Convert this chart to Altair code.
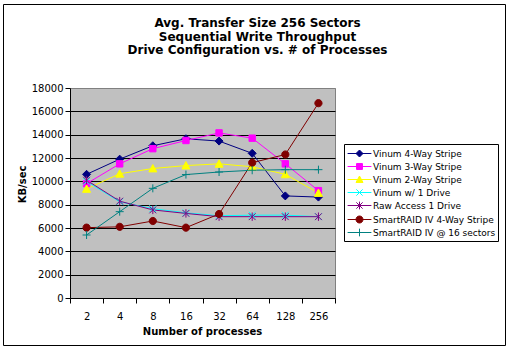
import altair as alt
import pandas as pd

processes = ["2", "4", "8", "16", "32", "64", "128", "256"]
series_names = [
    "Vinum 4-Way Stripe",
    "Vinum 3-Way Stripe",
    "Vinum 2-Way Stripe",
    "Vinum w/ 1 Drive",
    "Raw Access 1 Drive",
    "SmartRAID IV 4-Way Stripe",
    "SmartRAID IV @ 16 sectors",
]
vinum4 = [10600, 11900, 13050, 13650, 13450, 12400, 8750, 8650]
vinum3 = [9800, 11500, 12800, 13500, 14150, 13700, 11500, 9200]
vinum2 = [9350, 10650, 11100, 11350, 11500, 11250, 10600, 9000]
vinum1 = [10000, 8250, 7650, 7300, 7050, 7100, 7100, 6970]
raw1 = [10100, 8300, 7550, 7250, 6970, 6970, 6970, 6970]
smart4 = [6030, 6100, 6600, 6030, 7200, 11600, 12300, 16700]
smart16 = [5400, 7400, 9400, 10580, 10800, 10950, 11000, 11000]
all_values = [vinum4, vinum3, vinum2, vinum1, raw1, smart4, smart16]

colors = ["#000080", "#FF00FF", "#FFFF00", "#00FFFF", "#800080", "#800000", "#008080"]

marker_paths = [
    "M0,-1L1,0L0,1L-1,0Z",
    "M-0.8,-0.8H0.8V0.8H-0.8Z",
    "M0,-1L1,0.85L-1,0.85Z",
    "M-0.85,-0.85L0.85,0.85M-0.85,0.85L0.85,-0.85",
    "M-0.85,-0.85L0.85,0.85M-0.85,0.85L0.85,-0.85M0,-1.05V1.05",
    "M-0.9,0A0.9,0.9,0,1,1,0.9,0A0.9,0.9,0,1,1,-0.9,0Z",
    "M-1,0H1M0,-1V1",
]
L = "M-1.7,0H1.7"
legend_paths = [
    L + "M0,-0.5L0.5,0L0,0.5L-0.5,0Z",
    L + "M-0.42,-0.42H0.42V0.42H-0.42Z",
    L + "M0,-0.5L0.5,0.42L-0.5,0.42Z",
    L + "M-0.45,-0.45L0.45,0.45M-0.45,0.45L0.45,-0.45",
    L + "M-0.45,-0.45L0.45,0.45M-0.45,0.45L0.45,-0.45M0,-0.55V0.55",
    L + "M-0.5,0A0.5,0.5,0,1,1,0.5,0A0.5,0.5,0,1,1,-0.5,0Z",
    L + "M0,-0.55V0.55",
]

rows = []
for name, vals in zip(series_names, all_values):
    for i, (p, v) in enumerate(zip(processes, vals)):
        rows.append({"series": name, "processes": p, "kbps": v, "idx": i})
df = pd.DataFrame(rows)

FONT = "DejaVu Sans"

x_enc = alt.X(
    "processes:O",
    sort=processes,
    scale=alt.Scale(type="band", paddingInner=0, paddingOuter=0),
    axis=alt.Axis(
        title="Number of processes",
        labelAngle=0,
        tickBand="extent",
        tickSize=5,
        tickColor="black",
        domainColor="black",
        labelFont=FONT,
        labelFontSize=10,
        labelColor="black",
        labelPadding=8,
        grid=False,
        titleFont=FONT,
        titleFontSize=10,
        titleFontWeight="bold",
        titleColor="black",
        titleX=132,
        titleY=33,
        titleBaseline="middle",
        titleAlign="center",
    ),
)
y_enc = alt.Y(
    "kbps:Q",
    scale=alt.Scale(domain=[0, 18000], nice=False),
    axis=alt.Axis(
        title="KB/sec",
        values=list(range(0, 18001, 2000)),
        format="d",
        tickSize=5,
        tickColor="black",
        domainColor="black",
        labelFont=FONT,
        labelFontSize=10,
        labelColor="black",
        labelPadding=2,
        gridColor={"condition": {"test": "datum.value == 18000", "value": "#808080"}, "value": "black"},
        gridOpacity=1,
        titleFont=FONT,
        titleFontSize=10,
        titleFontWeight="bold",
        titleColor="black",
        titleAngle=270,
        titleX=-48,
        titleY=96,
        titleBaseline="middle",
        titleAlign="center",
    ),
)

border = alt.Chart(pd.DataFrame({"a": [0]})).mark_rect(
    filled=False, stroke="black", strokeWidth=1
).encode(
    x=alt.value(-66.5), x2=alt.value(435.5), y=alt.value(-83.5), y2=alt.value(257.5)
)

lines = alt.Chart(df).mark_line(strokeWidth=1).encode(
    x=x_enc,
    y=y_enc,
    stroke=alt.Stroke("series:N", scale=alt.Scale(domain=series_names, range=colors), legend=None),
    order=alt.Order("idx:Q"),
)

points = alt.Chart(df).mark_point(filled=True, size=64, strokeWidth=1, opacity=1).encode(
    x=x_enc,
    y=y_enc,
    shape=alt.Shape("series:N", scale=alt.Scale(domain=series_names, range=marker_paths), legend=None),
    fill=alt.Fill("series:N", scale=alt.Scale(domain=series_names, range=colors), legend=None),
    stroke=alt.Stroke("series:N", scale=alt.Scale(domain=series_names, range=colors), legend=None),
)

leg = alt.Legend(
    orient="none",
    legendX=274,
    legendY=56,
    title=None,
    strokeColor="black",
    fillColor="white",
    padding=2,
    symbolOffset=6,
    labelOffset=6,
    rowPadding=0,
    labelFont=FONT,
    labelFontSize=9,
    labelColor="black",
    symbolSize=196,
    symbolStrokeWidth=1,
)

legend_layer = alt.Chart(df).transform_filter("false").mark_point(
    filled=True, size=196, strokeWidth=1, opacity=1
).encode(
    x=x_enc,
    y=y_enc,
    shape=alt.Shape("series:N", scale=alt.Scale(domain=series_names, range=legend_paths), legend=leg),
    fill=alt.Fill("series:N", scale=alt.Scale(domain=series_names, range=colors), legend=leg),
    stroke=alt.Stroke("series:N", scale=alt.Scale(domain=series_names, range=colors), legend=leg),
)

chart = alt.layer(border, lines, points, legend_layer).resolve_scale(
    shape="independent", fill="independent", stroke="independent"
).properties(
    width=265,
    height=210,
    autosize=alt.AutoSizeParams(type="none"),
    padding={"left": 70, "top": 88, "right": 176, "bottom": 53},
    background="white",
    title=alt.TitleParams(
        text=[
            "Avg. Transfer Size 256 Sectors",
            "Sequential Write Throughput",
            "Drive Configuration vs. # of Processes",
        ],
        font=FONT,
        fontSize=12,
        fontWeight="bold",
        color="black",
        anchor="middle",
        dx=55,
        offset=-53,
        lineHeight=13.5,
    ),
).configure_view(stroke="#808080", fill="#C0C0C0", strokeWidth=1)

chart.save("out.html", embed_options={"renderer": "svg", "actions": False})
